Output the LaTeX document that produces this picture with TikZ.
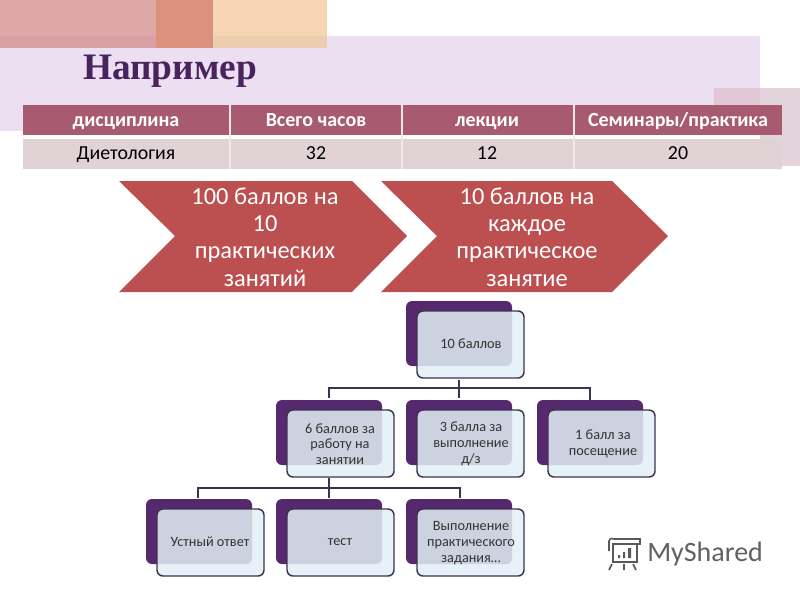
\documentclass[tikz,border=0pt]{standalone}
\usepackage{fontspec}
\setmainfont{Carlito}
\newfontfamily\titlefont{Liberation Serif}
\definecolor{hdr}{HTML}{A85A70}
\definecolor{rowc}{HTML}{E0D2D5}
\definecolor{lil}{HTML}{ECDFF2}
\definecolor{purp}{HTML}{56296F}
\definecolor{lnk}{HTML}{3D3350}
\definecolor{chev}{HTML}{BC4F50}
\definecolor{bgA}{HTML}{E0C8D6}
\definecolor{bgB}{HTML}{E3D3DA}
\definecolor{bgC}{HTML}{DFA8A8}
\definecolor{bgD}{HTML}{D8A0A4}
\definecolor{bgE}{HTML}{DB917C}
\definecolor{bgF}{HTML}{F6D5B2}
\definecolor{bgG}{HTML}{EDCDB0}
\definecolor{frontc}{HTML}{E2F0F6}
\tikzset{
 px/.style={x=0.75pt,y=-0.75pt},
 hcell/.style={text=white,font=\fontsize{15pt}{17pt}\selectfont\bfseries,anchor=base,inner sep=0pt},
 bcell/.style={text=black,font=\fontsize{14.9pt}{17pt}\selectfont,anchor=base,inner sep=0pt},
 chevtext/.style={text=white,align=center,font=\fontsize{18.3pt}{20.5pt}\selectfont,inner sep=0pt},
 backbox/.style={fill=purp,rounded corners=4.5pt},
 frontbox/.style={draw=lnk,line width=1.1pt,fill=frontc,fill opacity=0.85,rounded corners=4.5pt},
 tbox/.style={align=center,text=black!80,font=\fontsize{10.7pt}{11.8pt}\selectfont,inner sep=0pt},
 lnkline/.style={draw=lnk,line width=1.1pt},
}
\begin{document}
\begin{tikzpicture}[px]
\useasboundingbox (0,0) rectangle (800,600);
\fill[white] (0,0) rectangle (800,600);
% decorative background
\fill[lil] (0,36) rectangle (760,105);
\fill[lil] (0,105) rectangle (23,131);
\fill[bgA] (714,88) rectangle (760,105);
\fill[bgB] (760,88) rectangle (800,166);
\fill[bgC] (0,0) rectangle (156,48);
\fill[bgD] (0,36) rectangle (156,48);
\fill[bgE] (156,0) rectangle (213,48);
\fill[bgF] (213,0) rectangle (327,48);
\fill[bgG] (213,36) rectangle (327,48);
% title
\node[text=purp!85!black,font=\titlefont\bfseries\fontsize{28pt}{32pt}\selectfont,anchor=base,inner sep=0pt] (title) at (170,79) {Например};
% table
\fill[hdr] (23,105) rectangle (782,135);
\fill[rowc] (23,139) rectangle (782,169);
\foreach \x in {230,402,574} \draw[white!85!hdr,line width=0.8pt] (\x,105) -- (\x,169);
\node[hcell] (h1) at (126,126) {дисциплина};
\node[hcell] (h2) at (316,126) {Всего часов};
\node[hcell] (h3) at (487,126) {лекции};
\node[hcell] (h4) at (678,126) {Семинары/практика};
\node[bcell] (c1) at (126,159) {Диетология};
\node[bcell] (c2) at (316,159) {32};
\node[bcell] (c3) at (487,159) {12};
\node[bcell] (c4) at (678,159) {20};
% chevrons
\fill[chev] (119,181) -- (352,181) -- (407,236) -- (352,292) -- (119,292) -- (175,236) -- cycle;
\fill[chev] (381,292) -- (437,236) -- (381,181) -- (612,181) -- (668,236) -- (612,292) -- cycle;
\node[chevtext] (a1) at (265,237) {100 баллов на\\10\\практических\\занятий};
\node[chevtext] (a2) at (527,237) {10 баллов на\\каждое\\практическое\\занятие};
% connectors
\draw[lnkline] (459,380) -- (459,398);
\draw[lnkline] (329,398) -- (329,388) -- (590,388) -- (590,400);
\draw[lnkline] (329,478) -- (329,498);
\draw[lnkline] (198,498) -- (198,488) -- (460,488) -- (460,498);
% org boxes
\newcommand{\orgbox}[6]{%
 \fill[backbox] (#1,#2) rectangle ++(106,65);
 \draw[frontbox] (#1+11,#2+10) rectangle ++(107,67);
 \node[tbox] (#3) at (#1+#5,#2+#6) {#4};
}
\orgbox{406}{301}{n0}{10 баллов}{65}{43}
\orgbox{276}{400}{n1}{6 баллов за\\работу на\\занятии}{64}{44}
\orgbox{406}{400}{n2}{3 балла за\\выполнение\\д/з}{65}{44}
\orgbox{537}{400}{n3}{1 балл за\\посещение}{66}{44}
\orgbox{146}{499}{n4}{Устный ответ}{64}{43}
\orgbox{276}{499}{n5}{тест}{64}{43}
\orgbox{406}{499}{n6}{Выполнение\\практического\\задания…}{65}{44}
% logo
\begin{scope}[line width=1.2pt]
\draw[black!65] (609,551) -- (609,541) .. controls (610,538) and (612,538) .. (614,539) -- (640,539) -- (640,544) -- (614,544);
\draw[black!65] (613,544) rectangle (637,562);
\draw[black!65] (612,564) -- (609,570) (624,564) -- (624,570) (633,564) -- (636,570);
\fill[black!65] (618,555) rectangle (620,558) (623,552) rectangle (625,558) (628,548) rectangle (631,558);
\end{scope}
\node[text=black!62,font=\fontsize{21pt}{24pt}\selectfont,anchor=west,inner sep=0pt] (logo) at (647,554) {MyShared};
\end{tikzpicture}
\end{document}
